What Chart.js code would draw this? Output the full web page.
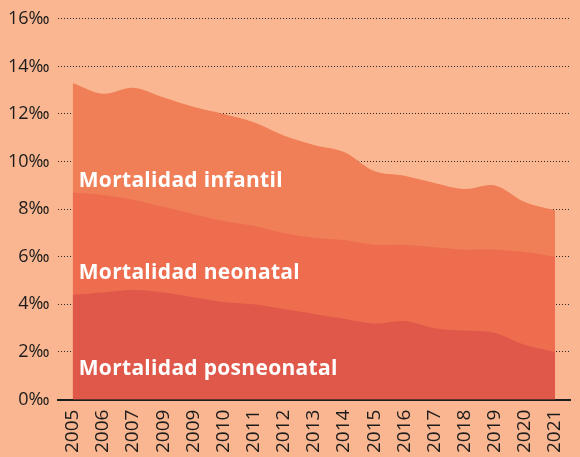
<!DOCTYPE html>
<html>
<head>
<meta charset="utf-8">
<script src="https://cdn.jsdelivr.net/npm/chart.js@4"></script>
<style>
  html, body { margin: 0; padding: 0; background: #f9b690; }
  #wrap { width: 580px; height: 457px; position: relative; }
</style>
</head>
<body>
<div id="wrap"><canvas id="myChart"></canvas></div>
<script>
// years as printed on the original (2009 appears twice)
const years = ['2005','2006','2007','2009','2009','2010','2011','2012','2013','2014','2015','2016','2017','2018','2019','2020','2021'];
const infantil = [13.3, 12.85, 13.1, 12.7, 12.3, 12.0, 11.65, 11.1, 10.7, 10.4, 9.6, 9.4, 9.1, 8.85, 9.0, 8.3, 7.95];
const neonatal = [8.7, 8.6, 8.4, 8.1, 7.8, 7.5, 7.3, 7.0, 6.8, 6.7, 6.5, 6.5, 6.4, 6.3, 6.3, 6.2, 6.0];
const posneonatal = [4.4, 4.5, 4.6, 4.5, 4.3, 4.1, 4.0, 3.8, 3.6, 3.4, 3.2, 3.3, 3.0, 2.9, 2.8, 2.3, 2.0];
const yTicks = [0, 2, 4, 6, 8, 10, 12, 14, 16];

// text labels inside the bands: [text, value on y axis]
const bandLabels = [
    ['Mortalidad infantil', 9.2],
    ['Mortalidad neonatal', 5.3],
    ['Mortalidad posneonatal', 1.3]
];

const bandText = {
    id: 'bandText',
    afterDraw(chart) {
        const ctx = chart.ctx;
        const x = chart.scales.x.getPixelForValue(0) + 6;
        ctx.save();
        ctx.fillStyle = '#ffffff';
        ctx.font = 'bold 21px "Open Sans"';
        ctx.letterSpacing = '0.3px';
        ctx.textBaseline = 'middle';
        bandLabels.forEach(function(l) {
            ctx.fillText(l[0], x, chart.scales.y.getPixelForValue(l[1]));
        });
        ctx.restore();
    }
};

function area(values, color) {
    return {
        data: values,
        backgroundColor: color,
        borderWidth: 0,
        pointRadius: 0,
        fill: 'origin',
        tension: 0.35
    };
}

const ctx = document.getElementById('myChart').getContext('2d');

new Chart(ctx, {
type: 'line',
data: {
    labels: years,
    // index 0 is drawn on top
    datasets: [
        area(posneonatal, '#e05849'),
        area(neonatal, '#ee6d4f'),
        area(infantil, '#f07f57')
    ]
},
options: {
    responsive: true,
    maintainAspectRatio: false,
    animation: false,
    layout: { padding: { top: 6, right: 5, left: 0, bottom: 2 } },
    plugins: {
        legend: { display: false },
        tooltip: { enabled: false }
    },
    scales: {
        x: {
            z: 1,
            offset: true,
            grid: { display: false },
            border: { display: true, color: '#1c1c1c', width: 2 },
            ticks: {
                color: '#1c1c1c',
                font: { family: '"Open Sans"', size: 19 },
                minRotation: 90,
                maxRotation: 90,
                autoSkip: false,
                padding: 2
            }
        },
        y: {
            z: 1,
            min: 0,
            max: 16,
            afterBuildTicks: function(scale) {
                scale.ticks = yTicks.map(v => ({ value: v }));
            },
            border: { display: false, dash: [1, 2] },
            grid: {
                color: '#2a2a2a',
                lineWidth: 1,
                drawTicks: false
            },
            ticks: {
                color: '#1c1c1c',
                font: { family: '"Open Sans"', size: 18 },
                padding: 8,
                callback: v => v + '‰'
            }
        }
    }
},
plugins: [bandText]
});
</script>
</body>
</html>
